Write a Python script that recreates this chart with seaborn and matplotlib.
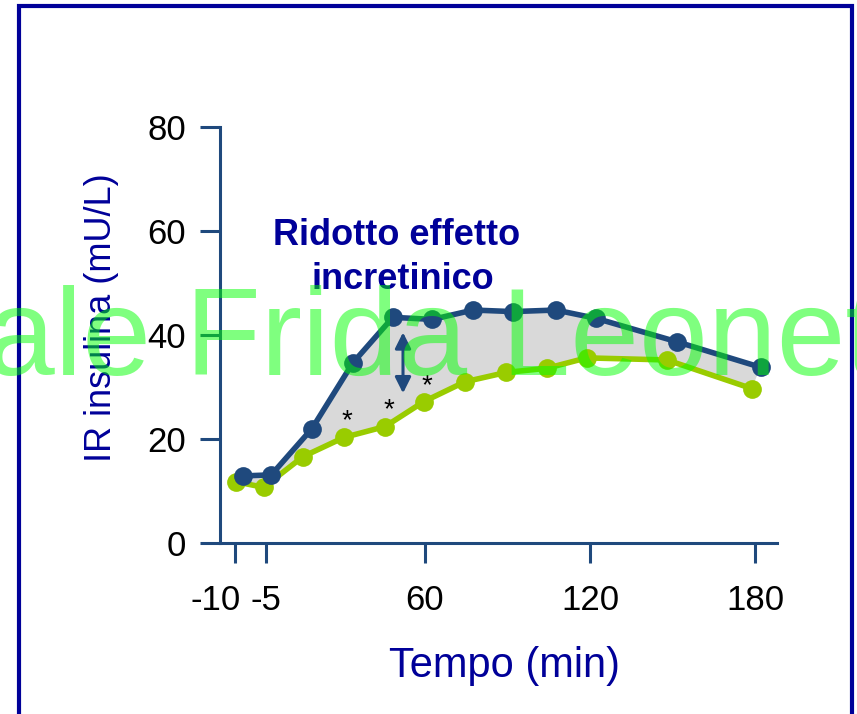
import matplotlib
matplotlib.use("Agg")
import matplotlib.pyplot as plt
import matplotlib.patches as mpatches
from matplotlib.transforms import ScaledTranslation
import seaborn as sns
import numpy as np
import pandas as pd

# values (time in min, insulin in mU/L)
blue_time = [-6.3, 4.1, 18.9, 33.7, 48.3, 62.7, 77.5, 92.0, 107.6, 122.2, 151.6, 182.0]
blue_ins = [12.9, 13.1, 22.0, 34.6, 43.4, 43.0, 44.8, 44.5, 44.8, 43.2, 38.7, 33.8]
green_time = [-8.9, 1.3, 15.6, 30.5, 45.5, 59.6, 74.5, 89.5, 104.3, 118.8, 148.0, 178.8]
green_ins = [11.8, 10.7, 16.6, 20.3, 22.4, 27.2, 31.0, 32.8, 33.6, 35.6, 35.2, 29.7]
tick_pos = [-9, 2, 60, 120, 180]
tick_labels = ["-10", "-5", "60", "120", "180"]
star_time = [31.5, 46.7, 60.6]
star_ins = [25.0, 27.2, 31.9]

blue_df = pd.DataFrame({"t": blue_time, "ir": blue_ins})
green_df = pd.DataFrame({"t": green_time, "ir": green_ins})

navy = "#000099"
steel = "#1f497d"
lime = "#99cc00"

sns.set_theme(style="white")
plt.rcParams["font.family"] = ["Liberation Sans", "DejaVu Sans"]

fig = plt.figure(figsize=(8.57, 7.14), dpi=100)
ax = fig.add_axes([220 / 857, 1 - 543 / 714, 557 / 857, 416 / 714])

# shaded area between the two curves
ax.fill(np.concatenate([blue_time, green_time[::-1]]),
        np.concatenate([blue_ins, green_ins[::-1]]),
        color="#d9d9d9", zorder=1, lw=0)

sns.lineplot(data=green_df, x="t", y="ir", ax=ax, color=lime, lw=4,
             marker="o", markersize=13.5, markeredgewidth=0, zorder=3)
sns.lineplot(data=blue_df, x="t", y="ir", ax=ax, color=steel, lw=4,
             marker="o", markersize=13.5, markeredgewidth=0, zorder=4)

ax.set_xlim(-14.55, 188)
ax.set_ylim(0, 80)
ax.set_yticks([0, 20, 40, 60, 80])
ax.set_xticks(tick_pos)
ax.set_xticklabels(tick_labels)

for side in ["top", "right"]:
    ax.spines[side].set_visible(False)
for side in ["left", "bottom"]:
    ax.spines[side].set_color(steel)
    ax.spines[side].set_linewidth(2.2)
ax.spines["left"].set_zorder(5)

ax.tick_params(axis="both", direction="out", length=14.4, width=2.2,
               color=steel, labelsize=25, labelcolor="black")
ax.tick_params(axis="y", left=True, pad=10)
ax.tick_params(axis="x", bottom=True, pad=15)

# the "-10" label sits left of its tick in the reference
first = ax.get_xticklabels()[0]
first.set_transform(first.get_transform() + ScaledTranslation(-0.2, 0, fig.dpi_scale_trans))

ax.set_xlabel("Tempo (min)", fontsize=30, color=navy)
ax.set_ylabel("IR insulina (mU/L)", fontsize=26, color=navy)
ax.xaxis.set_label_coords(0.51, -0.2476)
ax.yaxis.set_label_coords(-0.181, 0.541)

# annotation
ax.text(49.5, 57.3, "Ridotto effetto", fontsize=26, fontweight="bold",
        color=navy, ha="center", va="baseline")
ax.text(52, 48.8, "incretinico", fontsize=26, fontweight="bold",
        color=navy, ha="center", va="baseline")

ax.annotate("", xy=(52, 40.5), xytext=(52, 28.8),
            arrowprops=dict(arrowstyle="<|-|>,head_length=0.8,head_width=0.4",
                            color=steel, lw=2.2, shrinkA=0, shrinkB=0), zorder=6)

for t, v in zip(star_time, star_ins):
    ax.text(t, v - 3.0, "*", fontsize=20, color="black", ha="center", va="baseline", zorder=6)

# outer frame
fig.add_artist(mpatches.Rectangle((18.5 / 857, -0.05), (852 - 18.5) / 857, 1.05 - 5.5 / 714,
                                  transform=fig.transFigure, fill=False,
                                  edgecolor=navy, lw=3, clip_on=False))

# watermark
fig.text(-14 / 857, 1 - 375 / 714, "ale Frida Leonett", fontsize=89,
         color="#00ff00", alpha=0.5, ha="left", va="baseline", zorder=20)

fig.savefig("out.png", dpi=100)
